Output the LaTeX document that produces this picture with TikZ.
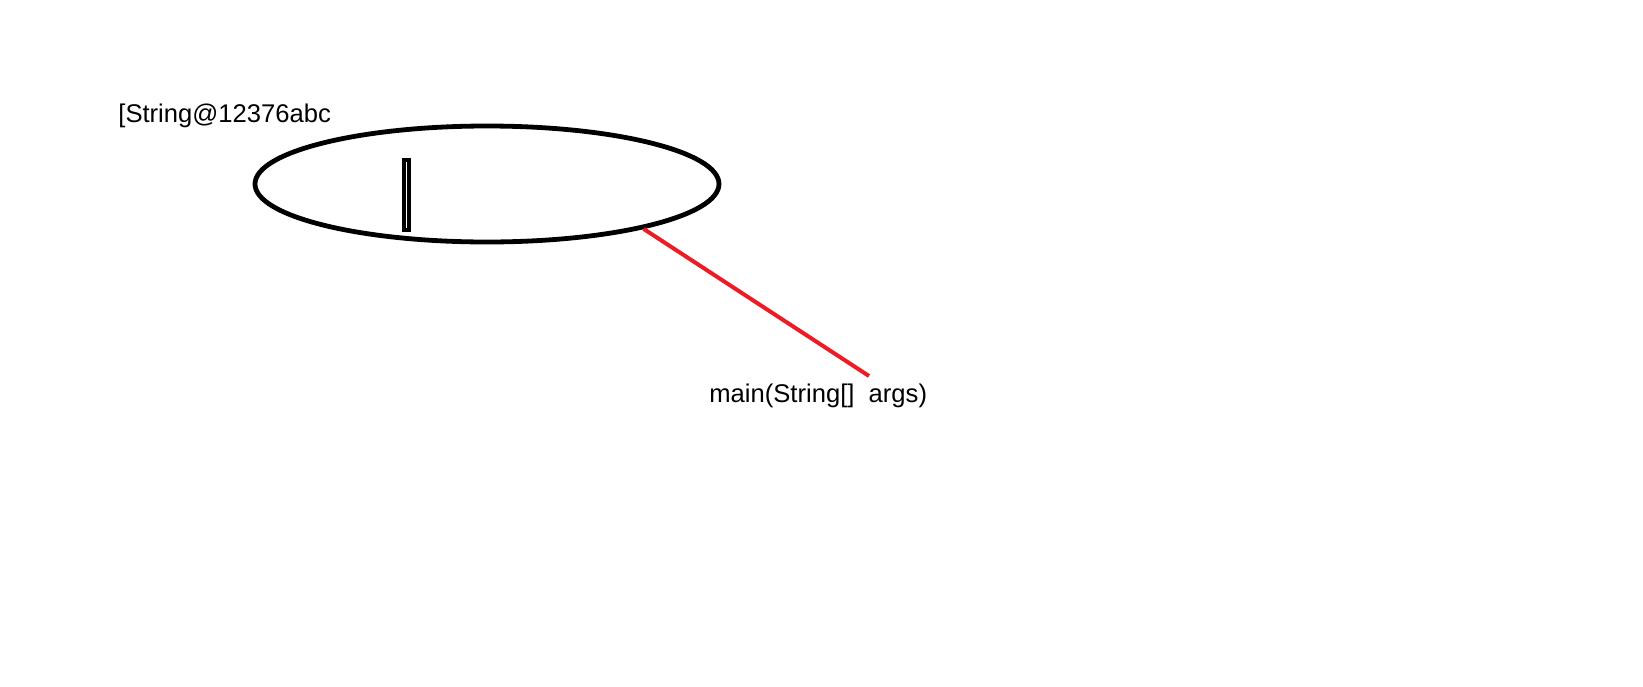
\documentclass[tikz,border=0pt]{standalone}
\usepackage{fontspec}
\setmainfont{Liberation Sans}
\usetikzlibrary{shapes.geometric}
\definecolor{paintred}{RGB}{237,28,36}
\begin{document}
\begin{tikzpicture}[x=0.5pt, y=-0.5pt,
every node/.style={font=\fontsize{12.8pt}{15pt}\selectfont, inner sep=0pt},
arraybox/.style={ellipse, draw, line width=2.4pt, minimum width=232pt, minimum height=58pt},
slot/.style={draw, line width=1.8pt},
refline/.style={draw=paintred, line width=2pt}]
\useasboundingbox (0,0) rectangle (1643,686);
\node[anchor=base west] (addr) at (118,122) {[String@12376abc};
\node[arraybox] (arr) at (487,184) {};
\draw[slot] (404,160) rectangle (409,230);
\node[anchor=base west] (args) at (709,402) {main(String[]\ \ args)};
\coordinate (tip) at (869,376);
\draw[refline] (arr.-16) -- (tip);
\end{tikzpicture}
\end{document}
